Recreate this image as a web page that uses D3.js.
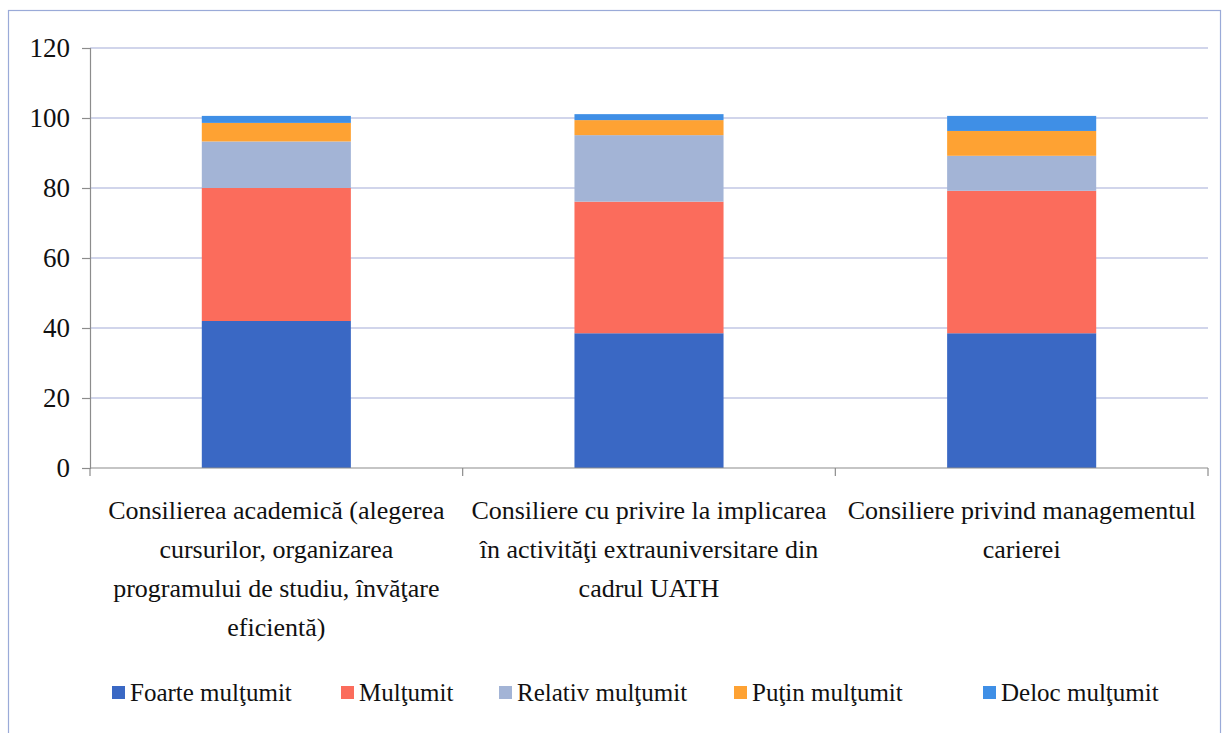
<!DOCTYPE html>
<html><head><meta charset="utf-8">
<script src="https://cdn.jsdelivr.net/npm/d3@7"></script>
<style>body{margin:0;background:#fff;} svg{display:block;} text{font-family:"Liberation Serif","Tinos","Times New Roman","DejaVu Serif",serif;}</style>
</head><body>
<svg id="c" width="1225" height="733"></svg>
<script>
const categories = [
  ["Consilierea academică (alegerea", "cursurilor, organizarea", "programului de studiu, învăţare", "eficientă)"],
  ["Consiliere cu privire la implicarea", "în activităţi extrauniversitare din", "cadrul UATH"],
  ["Consiliere privind managementul", "carierei"]
];
const seriesNames = ["Foarte mulţumit", "Mulţumit", "Relativ mulţumit", "Puţin mulţumit", "Deloc mulţumit"];
const foarte = [42, 38.5, 38.5];
const multumit = [38, 37.6, 40.7];
const relativ = [13.3, 19, 10];
const putin = [5.3, 4.3, 7.1];
const deloc = [2, 1.7, 4.3];
const yTicks = [0, 20, 40, 60, 80, 100, 120];
const colors = ["#3a68c4", "#fb6c5c", "#a3b4d6", "#fea233", "#3f8fe6"];

const svg = d3.select("#c");
const m = {l: 90, r: 1208, t: 48, b: 468};

// frame
svg.append("rect").attr("x", 8.5).attr("y", 10.5).attr("width", 1212).attr("height", 740)
  .attr("fill", "none").attr("stroke", "#9aaad8").attr("stroke-width", 1.2);

const idx = d3.range(categories.length);
const x = d3.scaleBand().domain(idx).range([m.l, m.r]).paddingInner(0.6).paddingOuter(0.3);
const xb = d3.scaleBand().domain(idx).range([m.l, m.r]);
const y = d3.scaleLinear().domain([0, 120]).range([m.b, m.t]);

// gridlines
svg.append("g").selectAll("line").data(yTicks.filter(d => d > 0)).join("line")
  .attr("x1", m.l).attr("x2", m.r).attr("y1", d => y(d)).attr("y2", d => y(d))
  .attr("stroke", "#a4acd8").attr("stroke-width", 1.2);

// stacked data
const rows = idx.map(i => ({i, s0: foarte[i], s1: multumit[i], s2: relativ[i], s3: putin[i], s4: deloc[i]}));
const stack = d3.stack().keys(["s0","s1","s2","s3","s4"])(rows);
svg.append("g").selectAll("g").data(stack).join("g").attr("fill", (d, k) => colors[k])
  .selectAll("rect").data(d => d).join("rect")
  .attr("x", d => x(d.data.i)).attr("width", x.bandwidth())
  .attr("y", d => y(d[1])).attr("height", d => y(d[0]) - y(d[1]));

// y axis
const ya = svg.append("g").attr("transform", `translate(${m.l},0)`)
  .call(d3.axisLeft(y).tickValues(yTicks).tickSize(8).tickPadding(12));
ya.attr("font-family", null);
ya.select(".domain").attr("stroke", "#8c8c8c").attr("stroke-width", 1.2);
ya.selectAll(".tick line").attr("stroke", "#8c8c8c").attr("stroke-width", 1.2);
ya.selectAll("text").attr("font-size", 27).attr("fill", "#111");

// x axis
const xa = svg.append("g").attr("transform", `translate(0,${m.b})`);
xa.append("line").attr("x1", m.l).attr("x2", m.r).attr("y1", 0).attr("y2", 0)
  .attr("stroke", "#8c8c8c").attr("stroke-width", 1.2);
const bounds = idx.map(i => xb(i)).concat([m.r]);
xa.selectAll("line.tk").data(bounds).join("line").attr("class", "tk")
  .attr("x1", d => d).attr("x2", d => d).attr("y1", 0).attr("y2", 8)
  .attr("stroke", "#8c8c8c").attr("stroke-width", 1.2);

const lab = svg.append("g").selectAll("text").data(idx).join("text")
  .attr("font-size", 26).attr("fill", "#111")
  .attr("text-anchor", "middle")
  .attr("x", i => xb(i) + xb.bandwidth() / 2).attr("y", 519);
lab.selectAll("tspan").data(i => categories[i].map((t, k) => ({t, k, i}))).join("tspan")
  .attr("x", d => xb(d.i) + xb.bandwidth() / 2).attr("dy", d => d.k === 0 ? 0 : 39).text(d => d.t);

// legend
const legX = [112, 341, 499, 734, 983];
const lg = svg.append("g").selectAll("g").data(seriesNames).join("g")
  .attr("transform", (d, k) => `translate(${legX[k]},693)`);
lg.append("rect").attr("x", 0).attr("y", -7).attr("width", 13).attr("height", 13).attr("fill", (d, k) => colors[k]);
lg.append("text").attr("x", 18).attr("y", 8).attr("font-size", 25)
  .attr("fill", "#111").text(d => d);
</script>
</body></html>
